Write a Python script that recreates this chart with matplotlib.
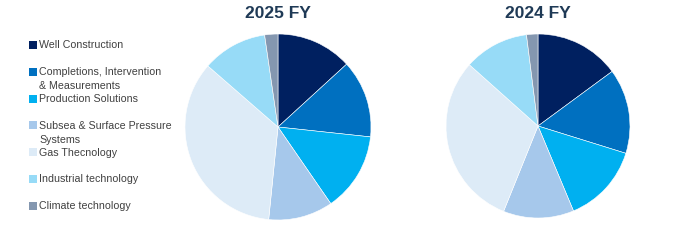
import matplotlib
matplotlib.use("Agg")
import matplotlib.pyplot as plt
from matplotlib.patches import Rectangle

# segments and shares (%)
segments = ["Well Construction", "Completions, Intervention\n& Measurements",
            "Production Solutions", "Subsea & Surface Pressure\nSystems",
            "Gas Thecnology", "Industrial technology", "Climate technology"]
fy2025 = [13.2, 13.5, 13.7, 11.2, 34.8, 11.3, 2.3]
fy2024 = [14.9, 14.9, 13.9, 12.4, 30.5, 11.4, 2.0]
colors = ["#002060", "#0070C0", "#00B0F0", "#A6C8EB", "#DDEBF7", "#97DBF7", "#8497B0"]

W, H = 674, 244
fig = plt.figure(figsize=(W / 100, H / 100), dpi=100)

def pie_axes(cx, cy, r):
    return fig.add_axes([(cx - r) / W, (H - cy - r) / H, 2 * r / W, 2 * r / H])

for vals, title, (cx, cy, r) in [(fy2025, "2025 FY", (278, 127, 93)),
                                 (fy2024, "2024 FY", (538, 126, 92))]:
    ax = pie_axes(cx, cy, r)
    ax.pie(vals, colors=colors, startangle=90, counterclock=False,
           wedgeprops=dict(linewidth=0.4, edgecolor="white"))
    ax.set_aspect("equal")
    ax.set_xlim(-1, 1)
    ax.set_ylim(-1, 1)
    fig.text(cx / W, 1 - 13 / H, title, ha="center", va="center",
             fontsize=12.5, fontweight="bold", color="#1F3A56",
             family="Liberation Sans")

# legend drawn by hand: evenly spaced entries, markers on first line
y0, step = 45, 26.8
for i, (lab, c) in enumerate(zip(segments, colors)):
    y = y0 + i * step
    fig.patches.append(Rectangle((29 / W, 1 - (y + 4) / H), 7.5 / W, 8 / H,
                                 transform=fig.transFigure, facecolor=c,
                                 edgecolor="none"))
    fig.text(39 / W, 1 - (y - 4.5) / H, lab, ha="left", va="top", fontsize=7.7,
             color="#404040", family="Liberation Sans", linespacing=1.5)

fig.savefig("out.png", dpi=100)
